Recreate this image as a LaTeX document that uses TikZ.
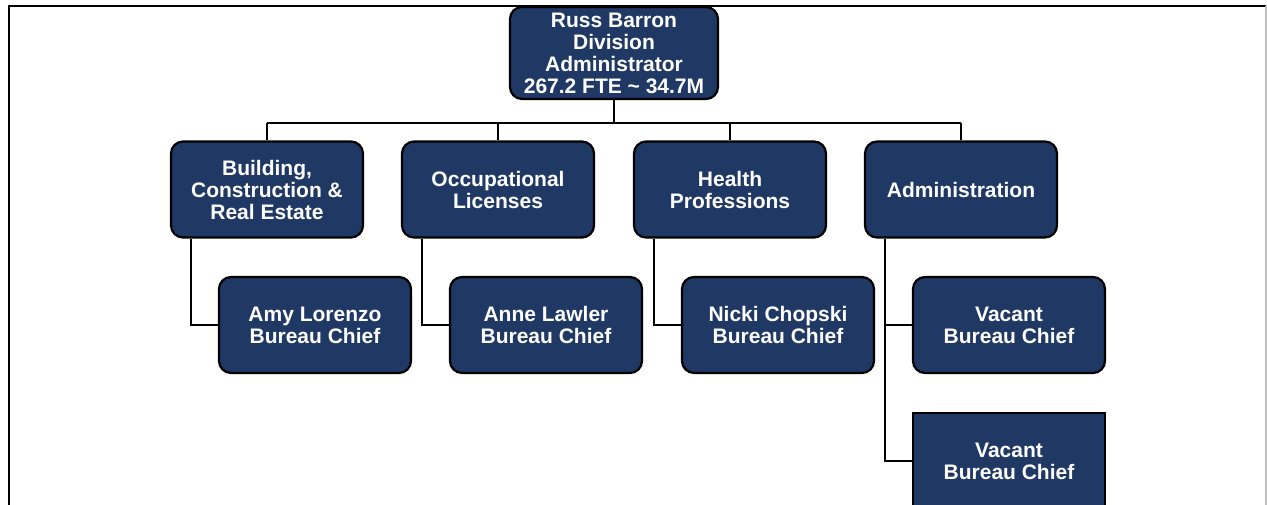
\documentclass[tikz,border=0pt]{standalone}
\usepackage{fontspec}
\setmainfont{Liberation Sans}
\usepackage{tikz}
\usetikzlibrary{calc}
\definecolor{navy}{HTML}{1F3864}

\begin{document}
\begin{tikzpicture}[x=1pt,y=-1pt,every text node part/.style={align=center}]
  \tikzstyle{unit}=[draw,fill=navy,text=white,
    font=\bfseries\fontsize{21}{22}\selectfont,rounded corners=12pt,
    line width=2.2pt,minimum width=192pt,minimum height=96pt,inner sep=2pt]
  \tikzstyle{link}=[line width=2pt]

  \useasboundingbox (0,0) rectangle (1267,505);
  \clip (0,0) rectangle (1267,505);

  % frame
  \draw [line width=2pt] (9,506) -- (9,6) -- (1266,6);
  \draw [gray!50,line width=1.2pt] (1266,6) -- (1266,506);

  \node [unit,minimum width=208pt,minimum height=92pt] (div) at (614,53) {
    Russ Barron\\Division\\Administrator\\267.2 FTE \textasciitilde{} 34.7M};

  \node [unit] (bce) at (267,189.5) {Building,\\Construction \&\\Real Estate};
  \node [unit] (occ) at (498,189.5) {Occupational\\Licenses};
  \node [unit] (hp) at (730,189.5) {Health\\Professions};
  \node [unit] (adm) at (961,189.5) {Administration};

  \node [unit] (amy) at (315,325) {Amy Lorenzo\\Bureau Chief};
  \node [unit] (anne) at (546,325) {Anne Lawler\\Bureau Chief};
  \node [unit] (nicki) at (778,325) {Nicki Chopski\\Bureau Chief};
  \node [unit] (vac1) at (1009,325) {Vacant\\Bureau Chief};
  \node [unit,rounded corners=0pt] (vac2) at (1009,461) {Vacant\\Bureau Chief};

  \draw [link] (div.south) -- ++(0,23) coordinate (bus);
  \draw [link] (bce.north |- bus) -- (adm.north |- bus);
  \foreach \u in {bce,occ,hp,adm}
    \draw [link] (\u.north |- bus) -- (\u.north);

  \draw [link] ([xshift=-76pt]bce.south) |- (amy.west);
  \draw [link] ([xshift=-76pt]occ.south) |- (anne.west);
  \draw [link] ([xshift=-76pt]hp.south) |- (nicki.west);
  \draw [link] ([xshift=-76pt]adm.south) |- (vac1.west);
  \draw [link] ([xshift=-76pt]adm.south) |- (vac2.west);
\end{tikzpicture}
\end{document}
